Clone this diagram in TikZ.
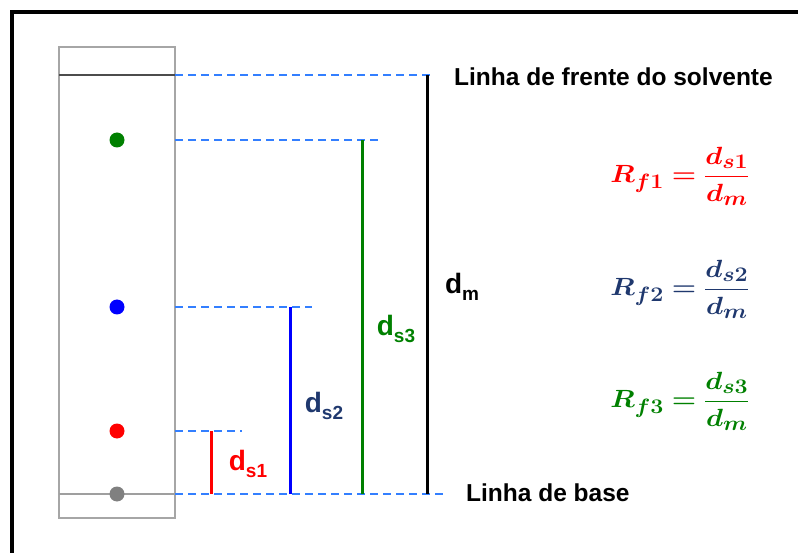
\documentclass[tikz,border=0pt]{standalone}
\usepackage{fontspec}
\setmainfont{Liberation Sans}
\usepackage{amsmath,bm}
\usetikzlibrary{
  calc,
  positioning
}

\definecolor{guideblue}{RGB}{51,127,255}
\definecolor{navy}{RGB}{31,56,110}
\definecolor{spotgreen}{RGB}{0,128,0}

\DeclareMathSizes{26}{26}{20}{15}
\newcommand{\dlab}[1]{d\raisebox{-0.45ex}{\fontsize{19}{19}\selectfont #1}}
\newcommand{\rfrac}[1]{\scalebox{1.12}[1]{$\displaystyle
  \bm{R_{f#1}=\frac{d_{s#1}}{d_m}}$}}

\begin{document}
\begin{tikzpicture}[
  x=1pt,
  y=-1pt,
  frame/.style={line width=4pt, black},
  plate/.style={line width=1.3pt, gray!70},
  mark line/.style={line width=1.6pt, gray!75},
  guide/.style={line width=1.8pt, guideblue, dash pattern=on 8pt off 5pt},
  dist/.style={line width=3pt},
  spot/.style={circle, fill, inner sep=0pt, minimum size=15pt},
  dlabel/.style={font=\bfseries\fontsize{28}{30}\selectfont, inner sep=2pt},
  caption/.style={font=\bfseries\fontsize{24.5}{27}\selectfont, anchor=west,
    inner sep=0pt},
  formula/.style={font=\fontsize{26}{30}\selectfont, inner sep=0pt}
]

  % Page extent and the black frame at top and left.
  \useasboundingbox (0,0) rectangle (798,553);
  \draw[frame] (11.5,553) -- (11.5,12.5) -- (798,12.5);

  % TLC plate with solvent front and base line.
  \draw[plate] (59,47) rectangle (175,518);
  \draw[mark line, gray!60!black] (59,75) -- (175,75);
  \draw[mark line] (59,494) -- (175,494);

  % Spots on the plate.
  \node[spot, spotgreen] (sg) at (117,140) {};
  \node[spot, blue]      (sb) at (117,307) {};
  \node[spot, red]       (sr) at (117,431) {};
  \node[spot, gray]      (so) at (117,494) {};

  % Ends of the guide lines.
  \coordinate (gf0) at (175,75);   \coordinate (gf1) at (430,75);
  \coordinate (gg0) at (175,140);  \coordinate (gg1) at (378,140);
  \coordinate (gb0) at (175,307);  \coordinate (gb1) at (312,307);
  \coordinate (gr0) at (175,431);  \coordinate (gr1) at (242,431);
  \coordinate (go0) at (175,494);  \coordinate (go1) at (443,494);

  \draw[guide] (gf0) -- (gf1);
  \draw[guide] (gg0) -- (gg1);
  \draw[guide] (gb0) -- (gb1);
  \draw[guide] (gr0) -- (gr1);
  \draw[guide] (go0) -- (go1);

  % Distances measured from the base line.
  \coordinate (r0) at (211,494);  \coordinate (r1) at (211,431);
  \coordinate (b0) at (290,494);  \coordinate (b1) at (290,307);
  \coordinate (g0) at (362,494);  \coordinate (g1) at (362,140);
  \coordinate (m0) at (427,494);  \coordinate (m1) at (427,75);

  \draw[dist, red]       (r0) -- (r1);
  \draw[dist, blue]      (b0) -- (b1);
  \draw[dist, spotgreen] (g0) -- (g1);
  \draw[dist, black]     (m0) -- (m1);

  \node[dlabel, red]       (ds1) at (248,464) {\dlab{s1}};
  \node[dlabel, navy]      (ds2) at (324,406) {\dlab{s2}};
  \node[dlabel, spotgreen] (ds3) at (396,329) {\dlab{s3}};
  \node[dlabel, black]     (dm)  at (462,287) {\dlab{m}};

  % Line captions.
  \node[caption] (front) at (454,77)  {Linha de frente do solvente};
  \node[caption] (base)  at (466,493) {Linha de base};

  % Retention factors.
  \node[formula, red]       (rf1) at (680,176) {\rfrac{1}};
  \node[formula, navy]      (rf2) at (680,289) {\rfrac{2}};
  \node[formula, spotgreen] (rf3) at (680,401) {\rfrac{3}};

\end{tikzpicture}
\end{document}
